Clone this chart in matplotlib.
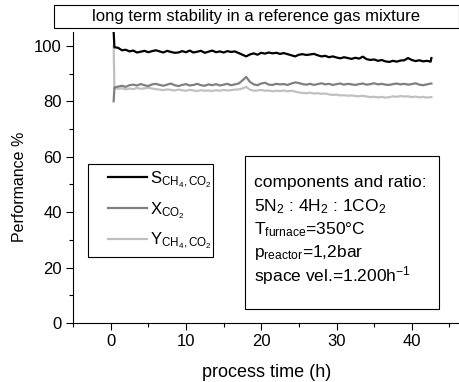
import matplotlib

matplotlib.use("Agg")
import matplotlib.pyplot as plt
from matplotlib.patches import Rectangle
from matplotlib.ticker import MultipleLocator

plt.rcParams["font.family"] = ["Liberation Sans", "DejaVu Sans"]
plt.rcParams["mathtext.fontset"] = "custom"
plt.rcParams["mathtext.rm"] = "Liberation Sans"
plt.rcParams["mathtext.it"] = "Liberation Sans"

# process time (h), sampled every 0.5 h after the start-up transient
time_h = [
    0.4, 0.5, 1.0, 1.5, 2.0, 2.5, 3.0, 3.5, 4.0, 4.5, 5.0, 5.5, 6.0, 6.5, 7.0,
    7.5, 8.0, 8.5, 9.0, 9.5, 10.0, 10.5, 11.0, 11.5, 12.0, 12.5, 13.0, 13.5,
    14.0, 14.5, 15.0, 15.5, 16.0, 16.5, 17.0, 17.5, 18.0, 18.5, 19.0, 19.5,
    20.0, 20.5, 21.0, 21.5, 22.0, 22.5, 23.0, 23.5, 24.0, 24.5, 25.0, 25.5,
    26.0, 26.5, 27.0, 27.5, 28.0, 28.5, 29.0, 29.5, 30.0, 30.5, 31.0, 31.5,
    32.0, 32.5, 33.0, 33.5, 34.0, 34.5, 35.0, 35.5, 36.0, 36.5, 37.0, 37.5,
    38.0, 38.5, 39.0, 39.5, 40.0, 40.5, 41.0, 41.5, 42.0, 42.5, 42.6,
]

# selectivity S(CH4,CO2) in %
sel_s = [
    105.0, 99.5, 99.3, 98.4, 98.6, 98.0, 98.3, 97.6, 97.9, 98.2, 97.7, 98.1,
    98.4, 98.0, 97.6, 98.2, 97.8, 97.5, 97.6, 98.1, 97.7, 98.3, 97.6, 97.9,
    98.2, 97.5, 97.9, 98.3, 97.7, 98.0, 97.6, 98.1, 97.8, 98.0, 97.4, 96.8,
    96.2, 96.9, 97.3, 96.8, 97.5, 97.2, 97.6, 97.3, 97.5, 97.1, 97.4, 97.0,
    96.6, 96.2, 96.8, 97.0, 96.7, 96.9, 97.1, 96.6, 96.2, 96.4, 95.9, 96.2,
    95.8, 95.5, 95.9, 95.6, 95.3, 95.7, 95.4, 96.1, 95.2, 94.9, 95.1, 94.6,
    94.9, 94.4, 94.2, 94.6, 94.3, 94.7, 94.8, 95.6, 94.9, 94.5, 94.8, 94.4,
    94.6, 94.3, 95.6,
]

# conversion X(CO2) in %
conv_x = [
    80.0, 85.0, 85.3, 85.6, 85.2, 85.8, 86.0, 85.7, 86.2, 85.8, 85.5, 86.1,
    86.3, 85.9, 85.6, 86.0, 86.4, 85.8, 85.5, 85.9, 86.2, 85.7, 85.9, 86.3,
    85.8, 85.6, 86.1, 85.8, 86.2, 85.7, 86.0, 86.3, 85.8, 86.1, 86.4, 87.5,
    88.8, 87.0, 86.1, 85.8, 86.4, 86.7, 86.0, 85.9, 86.3, 86.1, 86.2, 85.9,
    86.4, 86.8, 86.6, 86.2, 86.0, 86.3, 85.9, 86.2, 86.5, 86.1, 86.3, 85.9,
    86.2, 86.4, 86.0, 86.3, 86.1, 85.9, 86.2, 86.4, 86.0, 86.2, 86.5, 86.1,
    86.3, 86.0, 85.9, 86.2, 86.4, 86.1, 86.3, 86.0, 86.2, 86.5, 86.0, 85.8,
    86.1, 86.4, 86.4,
]

# yield Y(CH4,CO2) in %
yield_y = [
    100.0, 84.8, 84.5, 84.7, 84.3, 84.6, 84.4, 84.8, 84.5, 84.7, 84.9, 84.6,
    84.4, 84.2, 84.0, 84.3, 84.1, 83.9, 84.2, 84.0, 83.8, 84.1, 83.9, 83.7,
    84.0, 83.8, 83.9, 83.7, 84.0, 83.8, 84.1, 83.9, 84.0, 84.2, 84.3, 84.6,
    85.2, 84.2, 83.8, 83.9, 84.1, 83.8, 83.9, 83.6, 83.8, 83.7, 83.9, 83.6,
    83.8, 83.5, 83.2, 83.0, 82.9, 83.1, 82.8, 82.9, 82.7, 82.8, 82.5, 82.3,
    82.4, 82.1, 82.2, 82.0, 82.1, 81.9, 81.8, 82.0, 81.7, 81.5, 81.6, 81.4,
    81.6, 81.3, 81.5, 81.8, 81.6, 81.9, 81.7, 81.8, 81.5, 81.7, 81.4, 81.6,
    81.3, 81.5, 81.5,
]

LABELS = [
    r"S$_{\mathregular{CH_4,CO_2}}$",
    r"X$_{\mathregular{CO_2}}$",
    r"Y$_{\mathregular{CH_4,CO_2}}$",
]
COLORS = ["#000000", "#808080", "#c0c0c0"]

INFO_LINES = [
    "components and ratio:",
    r"5N$_2$ : 4H$_2$ : 1CO$_2$",
    r"T$_{\mathregular{furnace}}$=350°C",
    r"p$_{\mathregular{reactor}}$=1,2bar",
    r"space vel.=1.200h$^{\mathregular{-1}}$",
]
INFO_Y_PX = [183, 207, 230, 253, 276]

W, H = 460, 382
fig = plt.figure(figsize=(W / 100, H / 100), dpi=100)
ax = fig.add_axes([73 / W, 1 - 323 / H, 387 / W, 291 / H])


def ax_xy(px, py):
    """figure pixel (from top-left) -> axes fraction"""
    return (px - 73) / 387, (323 - py) / 291


# draw grey first so black sits on top, legend keeps S/X/Y order
lines = {}
for lab, ys, col in zip(LABELS[::-1], [yield_y, conv_x, sel_s], COLORS[::-1]):
    (lines[lab],) = ax.plot(time_h, ys, color=col, lw=1.6, solid_joinstyle="round")

ax.set_xlim(-5, 46.4)
ax.set_ylim(0, 105)
ax.xaxis.set_major_locator(MultipleLocator(10))
ax.xaxis.set_minor_locator(MultipleLocator(5))
ax.yaxis.set_major_locator(MultipleLocator(20))
ax.yaxis.set_minor_locator(MultipleLocator(10))
ax.tick_params(which="major", direction="out", length=5, width=0.8, labelsize=12, pad=3)
ax.tick_params(which="minor", direction="out", length=3, width=0.8)
for side in ("top", "right"):
    ax.spines[side].set_visible(False)
for side in ("left", "bottom"):
    ax.spines[side].set_linewidth(0.8)

ax.set_xlabel("process time (h)", fontsize=13, labelpad=11)
ax.set_ylabel("Performance %", fontsize=11.5)
ax.yaxis.set_label_coords(ax_xy(27, 0)[0], ax_xy(0, 187)[1])

# legend: frame drawn separately so the inner padding can match
ax.add_patch(Rectangle(ax_xy(88, 257), 125 / 387, 93 / 291,
                       transform=ax.transAxes, fill=False, lw=0.8, ec="black"))
leg = ax.legend(
    [lines[l] for l in LABELS], LABELS,
    loc="upper left", bbox_to_anchor=ax_xy(108, 169),
    borderaxespad=0, borderpad=0, frameon=False,
    fontsize=12, handlelength=2.35, handletextpad=0.2, labelspacing=0.62,
)

# parameter box
ax.add_patch(Rectangle(ax_xy(245, 309), 194 / 387, 153 / 291,
                       transform=ax.transAxes, fill=False, lw=0.8, ec="black"))
for txt, ypx in zip(INFO_LINES, INFO_Y_PX):
    ax.text(*ax_xy(254, ypx), txt, transform=ax.transAxes,
            fontsize=12.5, va="center", ha="left")

# title box
fig.add_artist(Rectangle((54 / W, 1 - 28 / H), 405 / W, 23 / H,
                         transform=fig.transFigure, fill=False, lw=0.8, ec="black"))
fig.text(256 / W, 1 - 16.5 / H, "long term stability in a reference gas mixture",
         fontsize=12, ha="center", va="center")

fig.savefig("out.png", dpi=100)
